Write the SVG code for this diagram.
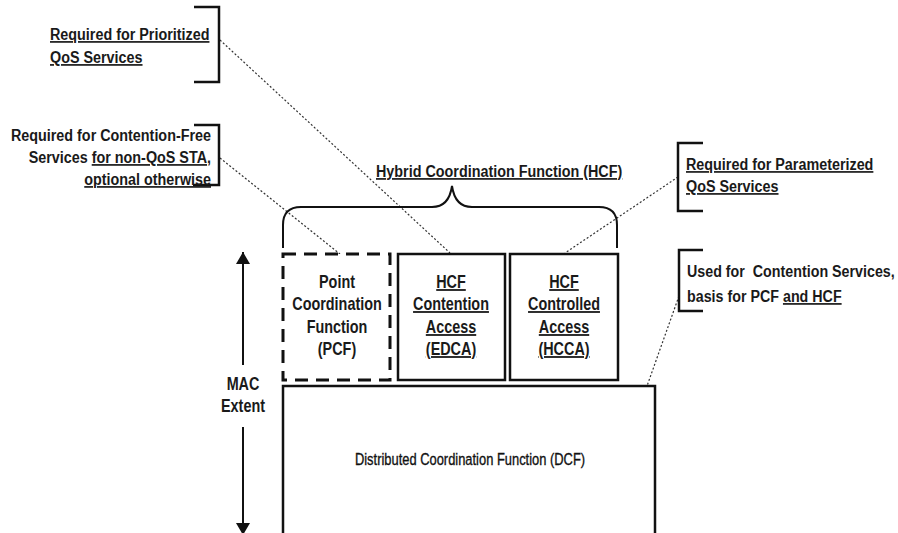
<svg xmlns="http://www.w3.org/2000/svg" width="898" height="533" viewBox="0 0 898 533">
  <defs>
    <style>
      text { font-family: "Liberation Sans", Arial, sans-serif; fill: #1a1a1a; }
      .note { font-weight: bold; font-size: 17px; }
      .inbox { font-weight: bold; font-size: 18px; text-anchor: middle; }
      .plain { font-size: 17px; text-anchor: middle; fill: #111; stroke: #111; stroke-width: 0.35; }
      .u { text-decoration: underline; }
      .end { text-anchor: end; }
      .bracket { fill: none; stroke: #111; stroke-width: 2.5; }
      .box { fill: #fff; stroke: #111; stroke-width: 2.5; }
      .dashed { fill: #fff; stroke: #111; stroke-width: 3; stroke-dasharray: 13 8; }
      .dot { fill: none; stroke: #333; stroke-width: 1.2; stroke-dasharray: 2 2; }
      .brace { fill: none; stroke: #111; stroke-width: 2; }
      .arrow { stroke: #111; stroke-width: 2; }
    </style>
    <marker id="head" viewBox="0 0 12 16" refX="12" refY="8" markerWidth="14" markerHeight="16" markerUnits="userSpaceOnUse" orient="auto">
      <path d="M0,1 L12,8 L0,15 Z" fill="#111"/>
    </marker>
  </defs>
  <rect width="898" height="533" fill="#fff"/>

  <!-- dotted leader lines from the notes to the functions they describe -->
  <g id="connectors">
    <line class="dot" x1="220" y1="40" x2="450" y2="253"/>
    <line class="dot" x1="220" y1="158" x2="340" y2="254"/>
    <line class="dot" x1="678" y1="177" x2="565" y2="253"/>
    <line class="dot" x1="679" y1="296" x2="647" y2="386"/>
  </g>

  <!-- note: prioritized QoS (text set in a narrowed face) -->
  <g id="note-prioritized">
    <path class="bracket" d="M194,7 H219 V82 H194"/>
    <g transform="matrix(0.845 0 0 1 50 0)">
      <text class="note u" x="0" y="40">Required for Prioritized</text>
      <text class="note u" x="0" y="63">QoS Services</text>
    </g>
  </g>

  <!-- note: contention-free -->
  <g id="note-contention-free">
    <path class="bracket" d="M194,125 H219 V185 H193"/>
    <g transform="matrix(0.845 0 0 1 211 0)">
      <text class="note end" x="0" y="141">Required for Contention-Free</text>
      <text class="note end" x="0" y="163">Services <tspan class="u">for non-QoS STA,</tspan></text>
      <text class="note end u" x="0" y="185">optional otherwise</text>
    </g>
  </g>

  <!-- HCF brace and title -->
  <g id="hcf">
    <g transform="matrix(0.845 0 0 1 376 0)">
      <text class="note u" x="0" y="177">Hybrid Coordination Function (HCF)</text>
    </g>
    <path class="brace" d="M283,248 V225 Q283,207 301,207 H432 Q449,207 452,186 Q455,207 472,207 H599 Q617,207 617,225 V248"/>
  </g>

  <!-- note: parameterized QoS -->
  <g id="note-parameterized">
    <path class="bracket" d="M703,143 H678 V211 H703"/>
    <g transform="matrix(0.845 0 0 1 686 0)">
      <text class="note u" x="0" y="170">Required for Parameterized</text>
      <text class="note u" x="0" y="192">QoS Services</text>
    </g>
  </g>

  <!-- note: contention services -->
  <g id="note-contention">
    <path class="bracket" d="M703,250 H679 V311 H703"/>
    <g transform="matrix(0.84 0 0 1 687 0)">
      <text class="note" x="0" y="277" xml:space="preserve">Used for  Contention Services,</text>
      <text class="note" x="0" y="302">basis for PCF <tspan class="u">and HCF</tspan></text>
    </g>
  </g>

  <!-- PCF -->
  <g id="pcf">
    <rect class="dashed" x="283" y="254" width="107" height="126"/>
    <g transform="matrix(0.8 0 0 1 337 0)">
      <text class="inbox" x="0" y="288">Point</text>
      <text class="inbox" x="0" y="310">Coordination</text>
      <text class="inbox" x="0" y="333">Function</text>
      <text class="inbox" x="0" y="355">(PCF)</text>
    </g>
  </g>

  <!-- EDCA -->
  <g id="edca">
    <rect class="box" x="398" y="254" width="107" height="126"/>
    <g transform="matrix(0.8 0 0 1 451 0)">
      <text class="inbox u" x="0" y="288">HCF</text>
      <text class="inbox u" x="0" y="310">Contention</text>
      <text class="inbox u" x="0" y="333">Access</text>
      <text class="inbox u" x="0" y="355">(EDCA)</text>
    </g>
  </g>

  <!-- HCCA -->
  <g id="hcca">
    <rect class="box" x="510" y="254" width="108" height="126"/>
    <g transform="matrix(0.8 0 0 1 564 0)">
      <text class="inbox u" x="0" y="288">HCF</text>
      <text class="inbox u" x="0" y="310">Controlled</text>
      <text class="inbox u" x="0" y="333">Access</text>
      <text class="inbox u" x="0" y="355">(HCCA)</text>
    </g>
  </g>

  <!-- DCF -->
  <g id="dcf">
    <rect class="box" x="283" y="386" width="372" height="160"/>
    <g transform="matrix(0.76 0 0 1 470 0)">
      <text class="plain" x="0" y="465">Distributed Coordination Function (DCF)</text>
    </g>
  </g>

  <!-- MAC extent arrow -->
  <g id="mac-extent">
    <line class="arrow" x1="243" y1="365" x2="243" y2="252" marker-end="url(#head)"/>
    <line class="arrow" x1="243" y1="427" x2="243" y2="535" marker-end="url(#head)"/>
    <g transform="matrix(0.8 0 0 1 243 0)">
      <text class="inbox" x="0" y="390">MAC</text>
      <text class="inbox" x="0" y="412">Extent</text>
    </g>
  </g>
</svg>
